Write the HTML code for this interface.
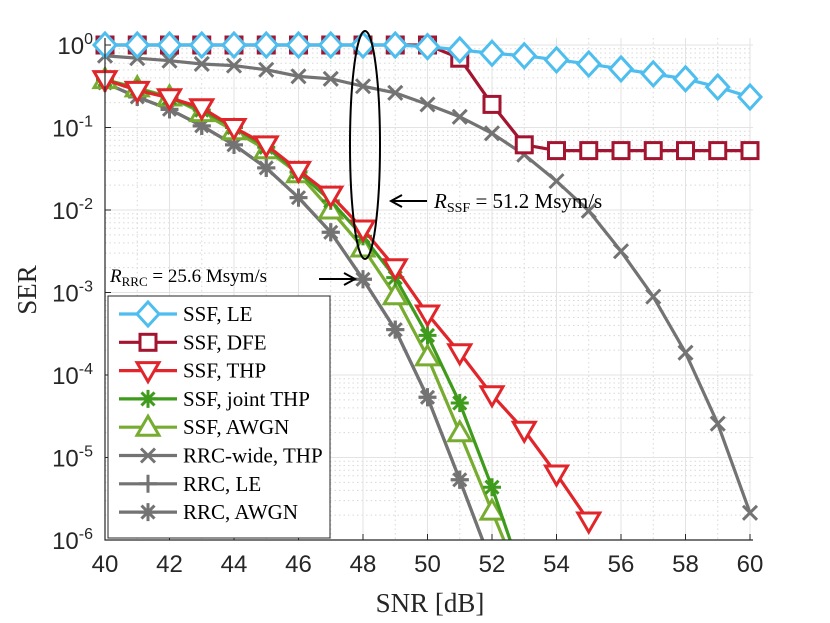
<!DOCTYPE html>
<html><head><meta charset="utf-8"><style>
body{margin:0;background:#fff;}
svg{display:block;}
text{font-family:"Liberation Serif",serif;}
text.sans{font-family:"Liberation Sans",sans-serif;}
</style></head><body>
<svg id="chart" width="830" height="623" viewBox="0 0 830 623" xmlns="http://www.w3.org/2000/svg">
<defs><clipPath id="clip"><rect x="90" y="20" width="680" height="520"/></clipPath></defs>
<g id="grid"></g>
<g id="series" clip-path="url(#clip)"></g>
<g id="axes"></g>
<g id="annot"></g>
<g id="legend"></g>
</svg>
<script>
const snr = [40,41,42,43,44,45,46,47,48,49,50,51,52,53,54,55,56,57,58,59,60];
const leExp = [0,0,0,0,0,0,0,0,0,0,-0.02,-0.06,-0.1,-0.13,-0.18,-0.23,-0.29,-0.35,-0.41,-0.51,-0.63];
const dfeExp = [0,0,0,0,0,0,0,0,0,0,0,-0.16,-0.72,-1.21,-1.28,-1.28,-1.28,-1.28,-1.28,-1.28,-1.28];
const thpExp = [-0.42,-0.55,-0.64,-0.76,-1.0,-1.21,-1.52,-1.82,-2.23,-2.70,-3.26,-3.73,-4.24,-4.67,-5.2,-5.77];
const jointExp = [-0.42,-0.53,-0.64,-0.79,-1.0,-1.24,-1.54,-1.89,-2.32,-2.82,-3.52,-4.34,-5.36,-6.5];
const awgnExp = [-0.42,-0.52,-0.63,-0.82,-1.04,-1.27,-1.56,-2.0,-2.46,-3.04,-3.78,-4.70,-5.65,-6.6];
const wideExp = [-0.13,-0.16,-0.19,-0.23,-0.25,-0.30,-0.38,-0.41,-0.50,-0.58,-0.72,-0.87,-1.07,-1.33,-1.65,-2.01,-2.50,-3.05,-3.73,-4.59,-5.67];
const rrcExp = [-0.46,-0.63,-0.78,-0.98,-1.21,-1.49,-1.85,-2.27,-2.84,-3.45,-4.27,-5.27,-6.3];
const xTicks = [40,42,44,46,48,50,52,54,56,58,60];
const yTicks = [0,-1,-2,-3,-4,-5,-6];
const legendLabels = ["SSF, LE","SSF, DFE","SSF, THP","SSF, joint THP","SSF, AWGN","RRC-wide, THP","RRC, LE","RRC, AWGN"];

const NS="http://www.w3.org/2000/svg";
const X0=105,X1=750,Y0=45,DEC=82.5;
function xs(v){return X0+(v-40)*(X1-X0)/20;}
function ys(e){return Y0-e*DEC;}
function mk(tag,attrs,parent){const el=document.createElementNS(NS,tag);for(const k in attrs)el.setAttribute(k,attrs[k]);parent.appendChild(el);return el;}
const grid=document.getElementById('grid'),axes=document.getElementById('axes'),series=document.getElementById('series'),legend=document.getElementById('legend'),annot=document.getElementById('annot');

for(let d=0;d<6;d++){for(let m=2;m<10;m++){const y=ys(-d-1+Math.log10(m));
 const l=mk('line',{x1:105,x2:753,y1:y,y2:y,stroke:'#d8d8d8','stroke-width':1,'stroke-dasharray':'1.5,3'},grid);
 
 }}
for(let v=41;v<60;v+=2){const l=mk('line',{x1:xs(v),x2:xs(v),y1:38,y2:540,stroke:'#d8d8d8','stroke-width':1,'stroke-dasharray':'1.5,3'},grid);
 
 }
xTicks.forEach(v=>{const l=mk('line',{x1:xs(v),x2:xs(v),y1:38,y2:540,stroke:'#e3e3e3','stroke-width':1},grid);
 
 });
yTicks.forEach(e=>{const l=mk('line',{x1:105,x2:753,y1:ys(e),y2:ys(e),stroke:'#e3e3e3','stroke-width':1},grid);
 
 });

const ax=mk('path',{d:'M105,38 V540 H753',fill:'none',stroke:'#262626','stroke-width':1.2},axes);


xTicks.forEach(v=>{mk('line',{x1:xs(v),x2:xs(v),y1:540,y2:534,stroke:'#262626'},axes);
 const t=mk('text',{x:xs(v),y:572,'text-anchor':'middle','font-size':24,fill:'#262626',class:'sans'},axes);t.textContent=v;
 
 });
yTicks.forEach(e=>{mk('line',{x1:105,x2:111,y1:ys(e),y2:ys(e),stroke:'#262626'},axes);
 const t=mk('text',{x:93,y:ys(e)+9,'text-anchor':'end','font-size':24,fill:'#262626',class:'sans'},axes);
 t.innerHTML='10<tspan dy="-10" font-size="16">'+e+'</tspan>';
 
 });
let t=mk('text',{x:430,y:612,'text-anchor':'middle','font-size':27,fill:'#262626'},axes);t.textContent='SNR [dB]';


t=mk('text',{x:0,y:0,'text-anchor':'middle','font-size':27,fill:'#262626',transform:'translate(36,290) rotate(-90)'},axes);t.textContent='SER';



function marker(type,x,y,color,parent){
 const g=mk('g',{stroke:color,'stroke-width':3,fill:'none'},parent);
 if(type==='diamond')mk('path',{d:`M${x},${y-12}L${x+11},${y}L${x},${y+12}L${x-11},${y}Z`,fill:'#fff'},g);
 if(type==='square')mk('rect',{x:x-8,y:y-8,width:16,height:16,fill:'#fff'},g);
 if(type==='tdown')mk('path',{d:`M${x-11},${y-8}L${x+11},${y-8}L${x},${y+11}Z`,fill:'#fff'},g);
 if(type==='tup')mk('path',{d:`M${x-11},${y+8}L${x+11},${y+8}L${x},${y-11}Z`,fill:'#fff'},g);
 if(type==='x')mk('path',{d:`M${x-7},${y-7}L${x+7},${y+7}M${x-7},${y+7}L${x+7},${y-7}`},g);
 if(type==='plus')mk('path',{d:`M${x-9},${y}H${x+9}M${x},${y-9}V${y+9}`},g);
 if(type==='star')mk('path',{d:`M${x-9},${y}H${x+9}M${x},${y-9}V${y+9}M${x-6.5},${y-6.5}L${x+6.5},${y+6.5}M${x-6.5},${y+6.5}L${x+6.5},${y-6.5}`},g);
 return g;
}
const defs=[
 {arr:wideExp,color:'#737373',m:'x',name:'rrc-wide-thp'},
 {arr:rrcExp,color:'#737373',m:'plus',name:'rrc-le'},
 {arr:rrcExp,color:'#737373',m:'star',name:'rrc-awgn'},
 {arr:awgnExp,color:'#77ac30',m:'tup',name:'ssf-awgn'},
 {arr:jointExp,color:'#3f9b1c',m:'star',name:'ssf-joint-thp'},
 {arr:thpExp,color:'#e0262b',m:'tdown',name:'ssf-thp'},
 {arr:dfeExp,color:'#a2142f',m:'square',name:'ssf-dfe'},
 {arr:leExp,color:'#4dbeee',m:'diamond',name:'ssf-le'}
];
defs.forEach(s=>{
 const g=mk('g',{},series);
 
 
 const pts=s.arr.map((e,i)=>xs(snr[i])+','+ys(e)).join(' ');
 const pl=mk('polyline',{points:pts,fill:'none',stroke:s.color,'stroke-width':3.2,'stroke-linejoin':'round'},g);
 pl.setAttribute('clip-path','url(#clipb)');
 s.arr.forEach((e,i)=>{if(e>=-6.05){const p=marker(s.m,xs(snr[i]),ys(e),s.color,g);
  
  }});
});
const cb=mk('clipPath',{id:'clipb'},document.querySelector('defs'));
mk('rect',{x:90,y:20,width:680,height:520},cb);

let el=mk('ellipse',{cx:365,cy:145,rx:15,ry:114,fill:'none',stroke:'#000','stroke-width':2},annot);


el=mk('path',{d:'M427,201 H392 M402,195 L391,201 L402,207',fill:'none',stroke:'#000','stroke-width':2},annot);


el=mk('text',{x:434,y:208,'font-size':21,fill:'#000'},annot);
el.innerHTML='<tspan font-style="italic">R</tspan><tspan font-size="14" dy="4">SSF</tspan><tspan dy="-4"> = 51.2 Msym/s</tspan>';


el=mk('text',{x:110,y:282,'font-size':19,fill:'#000'},annot);
el.innerHTML='<tspan font-style="italic">R</tspan><tspan font-size="13" dy="4">RRC</tspan><tspan dy="-4"> = 25.6 Msym/s</tspan>';


el=mk('path',{d:'M319,279 H354 M344,273 L355,279 L344,285',fill:'none',stroke:'#000','stroke-width':2},annot);



const lb=mk('rect',{x:108,y:296,width:222,height:242,fill:'#fff',stroke:'#262626','stroke-width':1},legend);


const legOrder=[7,6,5,4,3,0,1,2];
legOrder.forEach((di,i)=>{const s=defs[di];const y=314+i*28.3;
 const g=mk('g',{},legend);
 
 
 mk('line',{x1:119,x2:177,y1:y,y2:y,stroke:s.color,'stroke-width':3.2},g);
 marker(s.m,148,y,s.color,g);
 const tx=mk('text',{x:183,y:y+7,'font-size':21,fill:'#000'},g);tx.textContent=legendLabels[i];
});
</script>
</body></html>
